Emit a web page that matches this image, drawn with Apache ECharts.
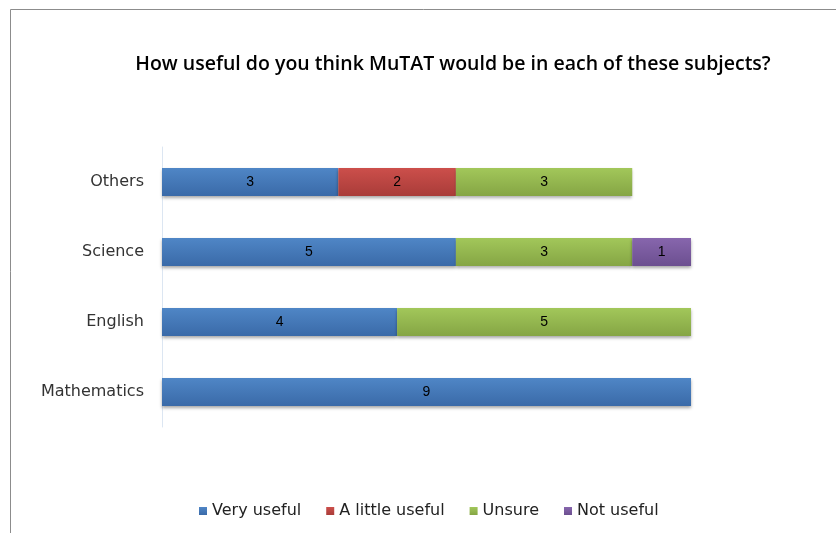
<!DOCTYPE html>
<html>
<head>
<meta charset="utf-8">
<script src="https://cdn.jsdelivr.net/npm/echarts@6/dist/echarts.min.js"></script>
<style>
  html, body { margin: 0; padding: 0; background: #fff; }
  #bar { width: 836px; height: 533px; }
</style>
</head>
<body>
<div id="bar"></div>
<script>
// data
var subjects = ['Mathematics', 'English', 'Science', 'Others'];
var veryUseful = [9, 4, 5, 3];
var littleUseful = [0, 0, 0, 2];
var unsure = [0, 5, 3, 3];
var notUseful = [0, 0, 1, 0];

var myChart = echarts.init(document.getElementById('bar'));

function grad(top, bottom) {
    return new echarts.graphic.LinearGradient(0, 0, 0, 1, [
        { offset: 0, color: top },
        { offset: 1, color: bottom }
    ]);
}

function part(name, values, top, bottom) {
    return {
        name: name,
        type: 'bar',
        stack: 'all',
        barWidth: 28,
        data: values.map(function (v) { return v === 0 ? null : v; }),
        itemStyle: {
            color: grad(top, bottom),
            shadowColor: 'rgba(0,0,0,0.35)',
            shadowBlur: 3,
            shadowOffsetY: 2
        },
        label: {
            show: true,
            position: 'inside',
            color: '#000',
            fontFamily: 'Liberation Sans',
            fontSize: 14
        }
    };
}

var option = {
    backgroundColor: '#fff',
    animation: false,
    color: ['#4a7ebb', '#be4b48', '#98b954', '#7d5fa0'],
    graphic: [{
        type: 'rect',
        shape: { x: 10.5, y: 9.5, width: 900, height: 600 },
        style: { fill: 'none', stroke: '#8c8c8c', lineWidth: 1 }
    }],
    title: {
        text: 'How useful do you think MuTAT would be in each of these subjects?',
        left: 448,
        textAlign: 'center',
        top: 49,
        textStyle: {
            color: '#000',
            fontFamily: 'Open Sans',
            fontWeight: 600,
            fontSize: 19.5
        }
    },
    legend: {
        top: 498,
        left: 194,
        itemWidth: 8,
        itemHeight: 8,
        itemGap: 25,
        icon: 'rect',
        textStyle: {
            color: '#222',
            fontFamily: 'DejaVu Sans',
            fontSize: 16
        },
        data: ['Very useful', 'A little useful', 'Unsure', 'Not useful']
    },
    grid: { left: 162, right: 145, top: 147, bottom: 106, containLabel: false },
    xAxis: {
        type: 'value',
        min: 0,
        max: 9,
        show: false
    },
    yAxis: {
        type: 'category',
        data: subjects,
        axisLine: { lineStyle: { color: '#dce6f2' } },
        axisTick: { show: false },
        axisLabel: {
            color: '#333',
            fontFamily: 'DejaVu Sans',
            fontSize: 16,
            margin: 18
        }
    },
    series: [
        part('Very useful', veryUseful, '#4f86c6', '#3a6aa8'),
        part('A little useful', littleUseful, '#cc4f4b', '#a93c39'),
        part('Unsure', unsure, '#a2c75a', '#85a544'),
        part('Not useful', notUseful, '#8766ad', '#6c4f90')
    ]
};

myChart.setOption(option);
</script>
</body>
</html>
